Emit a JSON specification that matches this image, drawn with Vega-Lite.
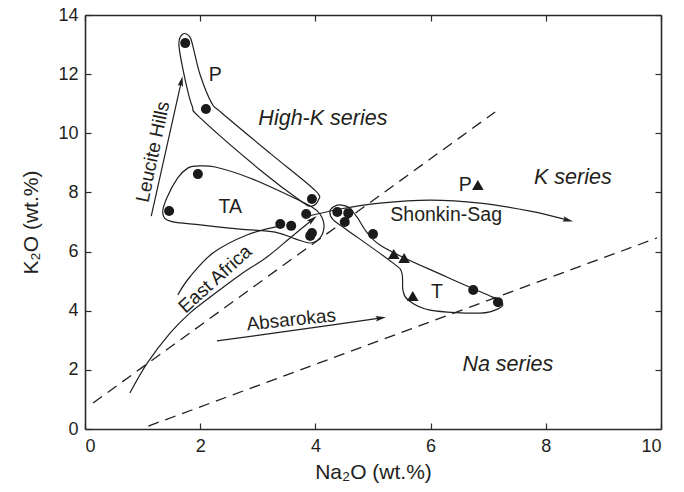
{
  "$schema": "https://vega.github.io/schema/vega-lite/v6.json",
  "width": 576,
  "height": 414,
  "autosize": "none",
  "padding": {"left": 85, "top": 15, "right": 23, "bottom": 63},
  "background": "white",
  "config": {
    "font": "Liberation Sans",
    "view": {"stroke": null},
    "axis": {
      "grid": false,
      "domainColor": "#2b2b2b",
      "domainWidth": 1.6,
      "tickColor": "#2b2b2b",
      "tickWidth": 1.2,
      "tickSize": -6,
      "labelFont": "Liberation Sans",
      "labelFontSize": 18,
      "labelColor": "#231f20",
      "titleFont": "Liberation Sans",
      "titleFontSize": 21,
      "titleFontWeight": "normal",
      "titleColor": "#231f20"
    }
  },
  "datasets": {
    "samples": [
      {"na": 1.74, "k": 13.05, "kind": "circle"},
      {"na": 2.1, "k": 10.82, "kind": "circle"},
      {"na": 1.96, "k": 8.62, "kind": "circle"},
      {"na": 1.46, "k": 7.37, "kind": "circle"},
      {"na": 3.94, "k": 7.78, "kind": "circle"},
      {"na": 3.84, "k": 7.27, "kind": "circle"},
      {"na": 3.39, "k": 6.93, "kind": "circle"},
      {"na": 3.58, "k": 6.87, "kind": "circle"},
      {"na": 3.94, "k": 6.63, "kind": "circle"},
      {"na": 3.91, "k": 6.53, "kind": "circle"},
      {"na": 4.38, "k": 7.34, "kind": "circle"},
      {"na": 4.57, "k": 7.3, "kind": "circle"},
      {"na": 4.51, "k": 7.0, "kind": "circle"},
      {"na": 5.0, "k": 6.59, "kind": "circle"},
      {"na": 6.74, "k": 4.7, "kind": "circle"},
      {"na": 7.17, "k": 4.29, "kind": "circle"},
      {"na": 6.82, "k": 8.25, "kind": "triangle"},
      {"na": 5.36, "k": 5.92, "kind": "triangle"},
      {"na": 5.54, "k": 5.78, "kind": "triangle"},
      {"na": 5.69, "k": 4.5, "kind": "triangle"}
    ],
    "loops": [
      {"loop": "P", "i": 1, "na": 1.7, "k": 13.36},
      {"loop": "P", "i": 2, "na": 1.82, "k": 13.26},
      {"loop": "P", "i": 3, "na": 1.88, "k": 12.89},
      {"loop": "P", "i": 4, "na": 2.0, "k": 11.97},
      {"loop": "P", "i": 5, "na": 2.2, "k": 11.02},
      {"loop": "P", "i": 6, "na": 2.38, "k": 10.68},
      {"loop": "P", "i": 7, "na": 3.21, "k": 9.33},
      {"loop": "P", "i": 8, "na": 3.99, "k": 8.08},
      {"loop": "P", "i": 9, "na": 4.05, "k": 7.74},
      {"loop": "P", "i": 10, "na": 3.94, "k": 7.54},
      {"loop": "P", "i": 11, "na": 3.77, "k": 7.68},
      {"loop": "P", "i": 12, "na": 3.04, "k": 8.76},
      {"loop": "P", "i": 13, "na": 2.0, "k": 10.52},
      {"loop": "P", "i": 14, "na": 1.86, "k": 10.92},
      {"loop": "P", "i": 15, "na": 1.74, "k": 11.8},
      {"loop": "P", "i": 16, "na": 1.63, "k": 12.99},
      {"loop": "TA", "i": 1, "na": 1.94, "k": 8.89},
      {"loop": "TA", "i": 2, "na": 2.26, "k": 8.86},
      {"loop": "TA", "i": 3, "na": 2.86, "k": 8.49},
      {"loop": "TA", "i": 4, "na": 3.56, "k": 7.88},
      {"loop": "TA", "i": 5, "na": 3.94, "k": 7.51},
      {"loop": "TA", "i": 6, "na": 4.08, "k": 7.27},
      {"loop": "TA", "i": 7, "na": 4.15, "k": 6.87},
      {"loop": "TA", "i": 8, "na": 4.08, "k": 6.46},
      {"loop": "TA", "i": 9, "na": 3.91, "k": 6.29},
      {"loop": "TA", "i": 10, "na": 3.65, "k": 6.43},
      {"loop": "TA", "i": 11, "na": 3.3, "k": 6.66},
      {"loop": "TA", "i": 12, "na": 2.69, "k": 6.76},
      {"loop": "TA", "i": 13, "na": 2.0, "k": 6.9},
      {"loop": "TA", "i": 14, "na": 1.48, "k": 7.03},
      {"loop": "TA", "i": 15, "na": 1.35, "k": 7.3},
      {"loop": "TA", "i": 16, "na": 1.42, "k": 7.81},
      {"loop": "TA", "i": 17, "na": 1.61, "k": 8.49},
      {"loop": "TA", "i": 18, "na": 1.79, "k": 8.83},
      {"loop": "T", "i": 1, "na": 4.43, "k": 7.58},
      {"loop": "T", "i": 2, "na": 4.31, "k": 7.51},
      {"loop": "T", "i": 3, "na": 4.25, "k": 7.34},
      {"loop": "T", "i": 4, "na": 4.31, "k": 7.07},
      {"loop": "T", "i": 5, "na": 4.55, "k": 6.73},
      {"loop": "T", "i": 6, "na": 5.35, "k": 5.61},
      {"loop": "T", "i": 7, "na": 5.5, "k": 5.28},
      {"loop": "T", "i": 8, "na": 5.52, "k": 4.7},
      {"loop": "T", "i": 9, "na": 5.61, "k": 4.36},
      {"loop": "T", "i": 10, "na": 5.99, "k": 4.02},
      {"loop": "T", "i": 11, "na": 6.86, "k": 3.92},
      {"loop": "T", "i": 12, "na": 7.2, "k": 4.09},
      {"loop": "T", "i": 13, "na": 7.24, "k": 4.29},
      {"loop": "T", "i": 14, "na": 7.08, "k": 4.46},
      {"loop": "T", "i": 15, "na": 6.28, "k": 5.14},
      {"loop": "T", "i": 16, "na": 5.12, "k": 6.22},
      {"loop": "T", "i": 17, "na": 4.72, "k": 7.17},
      {"loop": "T", "i": 18, "na": 4.6, "k": 7.47}
    ],
    "trends": [
      {"trend": "Leucite Hills", "i": 1, "na": 1.15, "k": 7.2},
      {"trend": "Leucite Hills", "i": 2, "na": 1.67, "k": 11.73},
      {"trend": "East Africa", "i": 1, "na": 0.78, "k": 1.22},
      {"trend": "East Africa", "i": 2, "na": 1.08, "k": 2.23},
      {"trend": "East Africa", "i": 3, "na": 1.48, "k": 3.25},
      {"trend": "East Africa", "i": 4, "na": 1.82, "k": 3.92},
      {"trend": "East Africa", "i": 5, "na": 2.22, "k": 4.53},
      {"trend": "East Africa", "i": 6, "na": 2.69, "k": 5.21},
      {"trend": "East Africa", "i": 7, "na": 3.16, "k": 5.82},
      {"trend": "East Africa", "i": 8, "na": 3.56, "k": 6.46},
      {"trend": "East Africa", "i": 9, "na": 3.94, "k": 7.07},
      {"trend": "East Africa upper", "i": 1, "na": 1.61, "k": 4.53},
      {"trend": "East Africa upper", "i": 2, "na": 1.82, "k": 5.14},
      {"trend": "East Africa upper", "i": 3, "na": 2.22, "k": 5.95},
      {"trend": "East Africa upper", "i": 4, "na": 2.81, "k": 6.56},
      {"trend": "East Africa upper", "i": 5, "na": 3.39, "k": 6.87},
      {"trend": "Shonkin-Sag", "i": 1, "na": 3.82, "k": 7.17},
      {"trend": "Shonkin-Sag", "i": 2, "na": 4.43, "k": 7.44},
      {"trend": "Shonkin-Sag", "i": 3, "na": 5.12, "k": 7.64},
      {"trend": "Shonkin-Sag", "i": 4, "na": 5.99, "k": 7.74},
      {"trend": "Shonkin-Sag", "i": 5, "na": 6.86, "k": 7.64},
      {"trend": "Shonkin-Sag", "i": 6, "na": 7.73, "k": 7.37},
      {"trend": "Shonkin-Sag", "i": 7, "na": 8.37, "k": 7.07},
      {"trend": "Absarokas", "i": 1, "na": 2.29, "k": 2.98},
      {"trend": "Absarokas", "i": 2, "na": 3.68, "k": 3.35},
      {"trend": "Absarokas", "i": 3, "na": 5.12, "k": 3.75}
    ],
    "boundaries": [
      {"line": "K/high-K", "na": 0.14, "k": 0.88},
      {"line": "K/high-K", "na": 7.12, "k": 10.72},
      {"line": "Na/K", "na": 1.1, "k": 0.1},
      {"line": "Na/K", "na": 9.93, "k": 6.46}
    ],
    "labels": [
      {"text": "P", "na": 2.26, "k": 11.97, "style": "plain"},
      {"text": "TA", "na": 2.52, "k": 7.5, "style": "plain"},
      {"text": "T", "na": 6.11, "k": 4.63, "style": "plain"},
      {"text": "P", "na": 6.6, "k": 8.25, "style": "plain"},
      {"text": "Shonkin-Sag", "na": 6.27, "k": 7.24, "style": "plain"},
      {"text": "High-K series", "na": 4.13, "k": 10.5, "style": "series"},
      {"text": "K series", "na": 8.47, "k": 8.49, "style": "series"},
      {"text": "Na series", "na": 7.34, "k": 2.16, "style": "series"},
      {"text": "Leucite Hills", "na": 1.18, "k": 9.37, "style": "Leucite Hills"},
      {"text": "East Africa", "na": 2.26, "k": 5.07, "style": "East Africa"},
      {"text": "Absarokas", "na": 3.58, "k": 3.69, "style": "Absarokas"}
    ]
  },
  "layer": [
    {
      "data": {"name": "boundaries"},
      "mark": {"type": "line", "stroke": "#231f20", "strokeWidth": 1.3, "strokeDash": [11, 7]},
      "encoding": {
        "x": {"field": "na", "type": "quantitative", "scale": {"domain": [0, 10], "nice": false},
          "axis": {"orient": "top", "labels": false, "title": null, "values": [0, 2, 4, 6, 8, 10]}},
        "y": {"field": "k", "type": "quantitative", "scale": {"domain": [0, 14], "nice": false},
          "axis": {"orient": "right", "labels": false, "title": null, "values": [0, 2, 4, 6, 8, 10, 12, 14]}},
        "detail": {"field": "line"}
      }
    },
    {
      "data": {"name": "samples"},
      "mark": {"type": "point", "filled": true, "opacity": 1, "color": "#1a1a1a"},
      "encoding": {
        "x": {"field": "na", "type": "quantitative",
          "axis": {"orient": "bottom", "title": "Na₂O (wt.%)", "values": [0, 2, 4, 6, 8, 10], "labelPadding": 14, "titlePadding": 6}},
        "y": {"field": "k", "type": "quantitative",
          "axis": {"orient": "left", "title": "K₂O (wt.%)", "values": [0, 2, 4, 6, 8, 10, 12, 14], "labelPadding": 13, "titlePadding": 16}},
        "shape": {"field": "kind", "type": "nominal", "scale": {"domain": ["circle", "triangle"], "range": ["circle", "triangle-up"]}, "legend": null},
        "size": {"field": "kind", "type": "nominal", "scale": {"domain": ["circle", "triangle"], "range": [100, 135]}, "legend": null}
      }
    },
    {
      "data": {"name": "loops"},
      "mark": {"type": "line", "interpolate": "cardinal-closed", "stroke": "#231f20", "strokeWidth": 1.2},
      "encoding": {
        "x": {"field": "na", "type": "quantitative", "axis": null},
        "y": {"field": "k", "type": "quantitative", "axis": null},
        "detail": {"field": "loop"},
        "order": {"field": "i", "type": "quantitative"}
      }
    },
    {
      "data": {"name": "trends"},
      "mark": {"type": "line", "interpolate": "cardinal", "stroke": "#231f20", "strokeWidth": 1.2},
      "encoding": {
        "x": {"field": "na", "type": "quantitative", "axis": null},
        "y": {"field": "k", "type": "quantitative", "axis": null},
        "detail": {"field": "trend"},
        "order": {"field": "i", "type": "quantitative"}
      }
    },
    {
      "data": {"name": "trends"},
      "transform": [{"filter": "datum.trend == 'Leucite Hills' && datum.i == 2"}],
      "mark": {"type": "point", "filled": true, "opacity": 1, "color": "#231f20", "shape": "M0,-1L0.45,0.7L0,0.4L-0.45,0.7Z", "size": 150, "angle": 13},
      "encoding": {
        "x": {"field": "na", "type": "quantitative", "axis": null},
        "y": {"field": "k", "type": "quantitative", "axis": null}
      }
    },
    {
      "data": {"name": "trends"},
      "transform": [{"filter": "datum.trend == 'East Africa' && datum.i == 9"}],
      "mark": {"type": "point", "filled": true, "opacity": 1, "color": "#231f20", "shape": "M0,-1L0.45,0.7L0,0.4L-0.45,0.7Z", "size": 150, "angle": 51},
      "encoding": {
        "x": {"field": "na", "type": "quantitative", "axis": null},
        "y": {"field": "k", "type": "quantitative", "axis": null}
      }
    },
    {
      "data": {"name": "trends"},
      "transform": [{"filter": "datum.trend == 'Shonkin-Sag' && datum.i == 7"}],
      "mark": {"type": "point", "filled": true, "opacity": 1, "color": "#231f20", "shape": "M0,-1L0.45,0.7L0,0.4L-0.45,0.7Z", "size": 150, "angle": 104},
      "encoding": {
        "x": {"field": "na", "type": "quantitative", "axis": null},
        "y": {"field": "k", "type": "quantitative", "axis": null}
      }
    },
    {
      "data": {"name": "trends"},
      "transform": [{"filter": "datum.trend == 'Absarokas' && datum.i == 3"}],
      "mark": {"type": "point", "filled": true, "opacity": 1, "color": "#231f20", "shape": "M0,-1L0.45,0.7L0,0.4L-0.45,0.7Z", "size": 150, "angle": 82},
      "encoding": {
        "x": {"field": "na", "type": "quantitative", "axis": null},
        "y": {"field": "k", "type": "quantitative", "axis": null}
      }
    },
    {
      "data": {"name": "labels"},
      "transform": [{"filter": "datum.style == 'plain'"}],
      "mark": {"type": "text", "font": "Liberation Sans", "fontSize": 19.5, "color": "#231f20", "align": "center", "baseline": "middle"},
      "encoding": {
        "x": {"field": "na", "type": "quantitative", "axis": null},
        "y": {"field": "k", "type": "quantitative", "axis": null},
        "text": {"field": "text"}
      }
    },
    {
      "data": {"name": "labels"},
      "transform": [{"filter": "datum.style == 'series'"}],
      "mark": {"type": "text", "font": "Liberation Sans", "fontSize": 21.5, "fontStyle": "italic", "color": "#231f20", "align": "center", "baseline": "middle"},
      "encoding": {
        "x": {"field": "na", "type": "quantitative", "axis": null},
        "y": {"field": "k", "type": "quantitative", "axis": null},
        "text": {"field": "text"}
      }
    },
    {
      "data": {"name": "labels"},
      "transform": [{"filter": "datum.style == 'Leucite Hills'"}],
      "mark": {"type": "text", "font": "Liberation Sans", "fontSize": 19, "color": "#231f20", "align": "center", "baseline": "middle", "angle": 282},
      "encoding": {
        "x": {"field": "na", "type": "quantitative", "axis": null},
        "y": {"field": "k", "type": "quantitative", "axis": null},
        "text": {"field": "text"}
      }
    },
    {
      "data": {"name": "labels"},
      "transform": [{"filter": "datum.style == 'East Africa'"}],
      "mark": {"type": "text", "font": "Liberation Sans", "fontSize": 19, "color": "#231f20", "align": "center", "baseline": "middle", "angle": 318},
      "encoding": {
        "x": {"field": "na", "type": "quantitative", "axis": null},
        "y": {"field": "k", "type": "quantitative", "axis": null},
        "text": {"field": "text"}
      }
    },
    {
      "data": {"name": "labels"},
      "transform": [{"filter": "datum.style == 'Absarokas'"}],
      "mark": {"type": "text", "font": "Liberation Sans", "fontSize": 19, "color": "#231f20", "align": "center", "baseline": "middle", "angle": 354},
      "encoding": {
        "x": {"field": "na", "type": "quantitative", "axis": null},
        "y": {"field": "k", "type": "quantitative", "axis": null},
        "text": {"field": "text"}
      }
    }
  ],
  "resolve": {"axis": {"x": "independent", "y": "independent"}}
}
